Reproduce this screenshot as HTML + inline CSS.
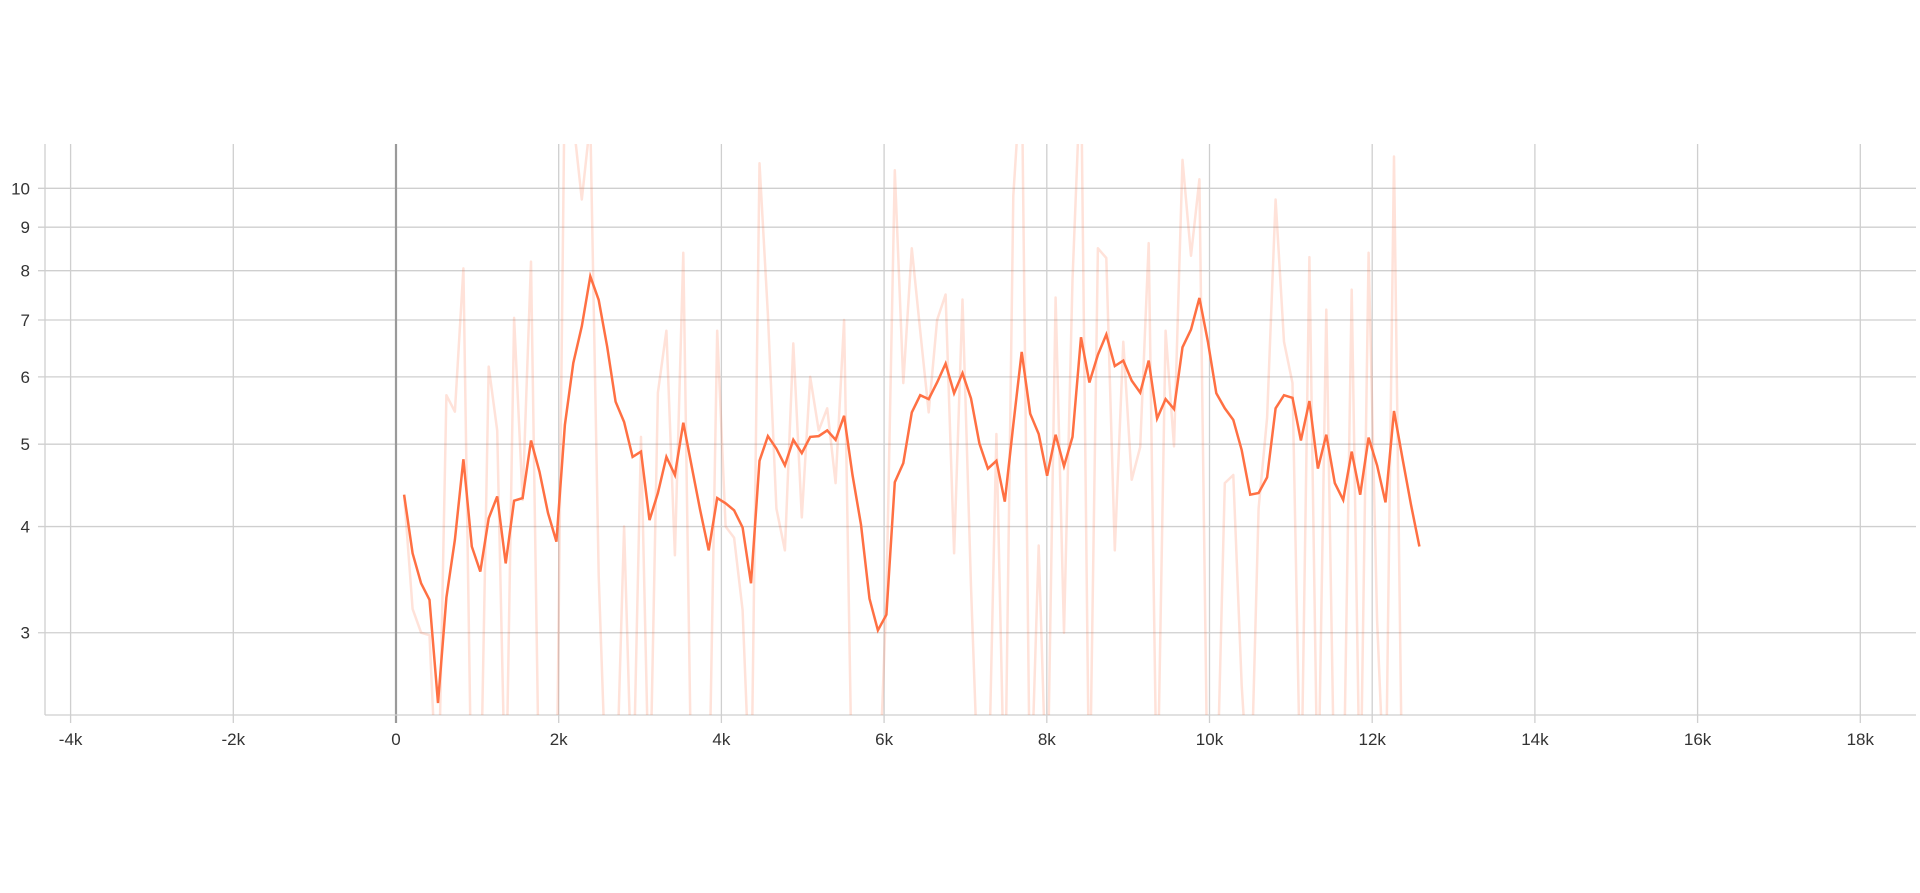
<!DOCTYPE html>
<html><head><meta charset="utf-8"><style>
html,body{margin:0;padding:0;background:#fff;}
svg{display:block;font-family:"Liberation Sans",sans-serif;}
</style></head>
<body>
<svg id="chart" width="1920" height="893" viewBox="0 0 1920 893"></svg>
<script>
// ---- data ----
const stepStart = 100;
const stepSize = 104;
const smoothedValues = [4.36,3.72,3.43,3.28,2.48,3.30,3.86,4.80,3.79,3.54,4.09,4.34,3.62,4.29,4.32,5.05,4.64,4.15,3.84,5.27,6.23,6.88,7.88,7.39,6.51,5.61,5.31,4.83,4.90,4.07,4.38,4.83,4.60,5.30,4.70,4.18,3.75,4.32,4.26,4.18,3.99,3.43,4.78,5.11,4.94,4.72,5.06,4.88,5.10,5.11,5.19,5.06,5.40,4.60,4.02,3.29,3.02,3.15,4.51,4.75,5.45,5.71,5.65,5.91,6.22,5.74,6.06,5.66,5.01,4.68,4.78,4.28,5.27,6.42,5.43,5.14,4.59,5.13,4.71,5.10,6.68,5.91,6.37,6.73,6.18,6.27,5.94,5.75,6.27,5.36,5.65,5.50,6.50,6.82,7.43,6.60,5.74,5.51,5.34,4.92,4.36,4.38,4.57,5.51,5.71,5.67,5.05,5.62,4.68,5.13,4.50,4.30,4.90,4.36,5.09,4.72,4.27,5.47,4.81,4.25,3.79];
const rawValues = [4.36,3.2,3.0,2.98,1.8,5.71,5.46,8.05,1.8,1.8,6.17,5.19,1.8,7.04,4.3,8.2,1.8,1.8,1.8,14,12,9.7,12,3.5,1.8,1.8,4.0,1.8,5.1,1.8,5.75,6.8,3.7,8.4,1.8,1.8,1.8,6.8,4.0,3.88,3.19,1.8,10.7,7.1,4.2,3.75,6.57,4.10,6.0,5.19,5.51,4.5,7.0,1.8,1.8,1.8,1.8,3.3,10.5,5.9,8.5,6.8,5.45,7.0,7.5,3.72,7.4,3.4,1.8,1.8,5.14,1.8,9.8,14,1.8,3.80,1.8,7.44,3.0,7.8,14,1.8,8.5,8.28,3.75,6.6,4.54,4.96,8.62,1.8,6.8,4.97,10.8,8.33,10.25,1.8,1.8,4.5,4.6,2.6,1.8,4.2,5.37,9.7,6.6,5.9,1.8,8.3,1.8,7.2,1.8,1.8,7.6,1.8,8.4,3.1,1.8,10.9,1.8,1.8,1.8];
const xTickValues = [-4000,-2000,0,2000,4000,6000,8000,10000,12000,14000,16000,18000];
const xTickLabels = ["-4k","-2k","0","2k","4k","6k","8k","10k","12k","14k","16k","18k"];
const yTickValues = [3,4,5,6,7,8,9,10];
const yTickLabels = ["3","4","5","6","7","8","9","10"];

// ---- scales ----
const plotL=45, plotR=1916, plotT=144, plotB=715;
function xScale(s){ return 396 + s*0.081350; }
function yScale(v){ return 188.3 + (1 - Math.log10(v))*850; }

const NS="http://www.w3.org/2000/svg";
const svg=document.getElementById('chart');
function mk(tag,attrs,parent){const e=document.createElementNS(NS,tag);for(const k in attrs)e.setAttribute(k,attrs[k]);(parent||svg).appendChild(e);return e;}

const defs=mk('defs',{});
const cp=mk('clipPath',{id:'plotclip'},defs);
mk('rect',{x:plotL,y:plotT,width:plotR-plotL,height:plotB-plotT},cp);

const grid=mk('g',{});


yTickValues.forEach((v,i)=>{
  const y=yScale(v);
  const l=mk('line',{x1:38,x2:plotR,y1:y,y2:y,stroke:'#cfcfcf','stroke-width':1.3},grid);
  
  
  const t=mk('text',{x:30,y:y+6,'text-anchor':'end','font-size':17,fill:'#333'});
  t.textContent=yTickLabels[i];
  
  
});
xTickValues.forEach((v,i)=>{
  const x=xScale(v);
  const zero=(v===0);
  const l=mk('line',{x1:x,x2:x,y1:plotT,y2:plotB+8,stroke:zero?'#9a9a9a':'#cfcfcf','stroke-width':zero?2.2:1.3},grid);
  
  
  const t=mk('text',{x:x,y:745,'text-anchor':'middle','font-size':17,fill:'#333'});
  t.textContent=xTickLabels[i];
  
  
});
const ya=mk('line',{x1:plotL,x2:plotL,y1:plotT,y2:plotB,stroke:'#cfcfcf','stroke-width':1.3});


const xa=mk('line',{x1:plotL,x2:plotR,y1:plotB,y2:plotB,stroke:'#cfcfcf','stroke-width':1.3});



function pts(arr){return arr.map((v,i)=>xScale(stepStart+i*stepSize).toFixed(1)+','+yScale(v).toFixed(1)).join(' ');}
const series=mk('g',{'clip-path':'url(#plotclip)'});


const raw=mk('polyline',{points:pts(rawValues),fill:'none',stroke:'#ff7043','stroke-opacity':0.2,'stroke-width':2.5,'stroke-linejoin':'round'},series);


const sm=mk('polyline',{points:pts(smoothedValues),fill:'none',stroke:'#ff7043','stroke-width':2.5,'stroke-linejoin':'miter'},series);


</script>
</body></html>
